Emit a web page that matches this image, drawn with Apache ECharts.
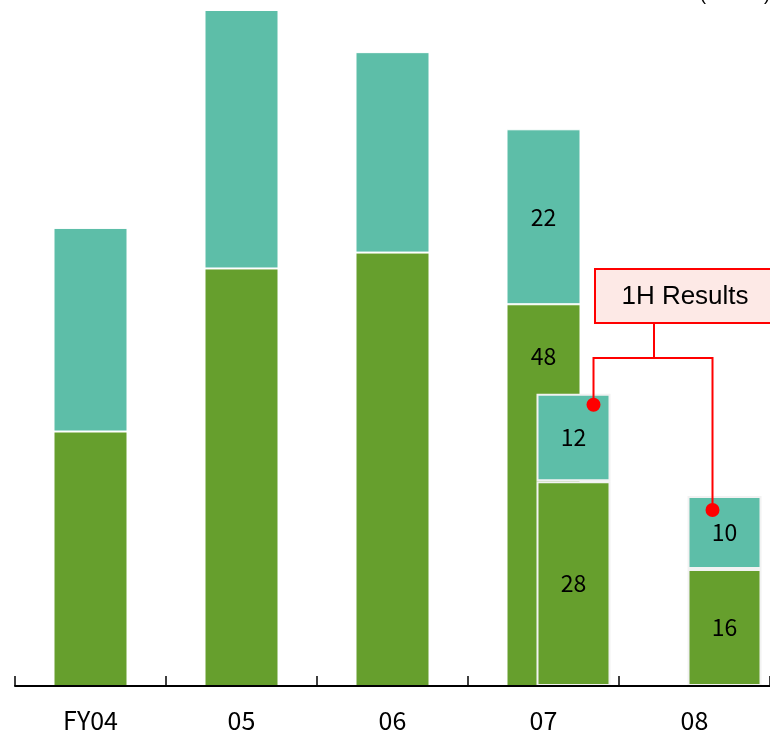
<!DOCTYPE html>
<html>
<head>
<meta charset="utf-8">
<script src="https://cdn.jsdelivr.net/npm/echarts@6/dist/echarts.min.js"></script>
<style>
  html, body { margin: 0; padding: 0; background: #ffffff; }
  #chart { width: 770px; height: 735px; }
</style>
</head>
<body>
<div id="chart"></div>
<script>
// Fiscal years on the category axis
const categories = ['FY04', '05', '06', '07', '08'];

// Full-year results (JPY bn): lower (green) and upper (teal) segments
const fyLower = [32, 52.5, 54.5, 48, null];
const fyUpper = [25.6, 32.5, 25.2, 22, null];

// First-half results (JPY bn)
const hLower = [null, null, null, 28, 16];
const hUpper = [null, null, null, 12, 10];

// Which full-year bars carry value labels
const fyLabelled = [false, false, false, true, false];

const unitText = '(JPY bn)';
const calloutText = '1H Results';

const GREEN = '#669f2d';
const TEAL = '#5dbea8';
const RED = '#ff0000';
const LABEL_FONT = '"Noto Sans CJK JP", "Liberation Sans", sans-serif';

const chart = echarts.init(document.getElementById('chart'), null, { renderer: 'canvas' });

function fyItems(values, pos, dist) {
  return values.map((v, i) => ({
    value: v,
    label: {
      show: fyLabelled[i] && v != null,
      position: pos,
      distance: dist
    }
  }));
}

const barLabel = {
  color: '#000',
  fontSize: 23,
  fontFamily: LABEL_FONT,
  formatter: p => String(p.value)
};

// First-half bars share the category band with an empty slot on their left,
// which pushes them to the right of the full-year bars.
const H_GAP = '-18.9%';

const option = {
  animation: false,
  backgroundColor: '#ffffff',
  grid: { left: 15, right: 0, top: 10, bottom: 49 },
  xAxis: [
    {
      type: 'category',
      data: categories,
      boundaryGap: true,
      axisLine: { lineStyle: { color: '#000', width: 2 } },
      axisTick: { show: true, inside: true, length: 10, lineStyle: { color: '#000', width: 1.5 } },
      axisLabel: { color: '#000', fontSize: 25, fontFamily: LABEL_FONT, margin: 22 },
      splitLine: { show: false },
      z: 10
    },
    {
      type: 'category',
      data: categories,
      show: false
    }
  ],
  yAxis: [
    { type: 'value', min: 0, max: 85, show: false, splitLine: { show: false } },
    { type: 'value', min: 0, max: 92.5, show: false, splitLine: { show: false } }
  ],
  series: [
    {
      name: 'FY lower', type: 'bar', xAxisIndex: 0, yAxisIndex: 0, stack: 'fy',
      barWidth: 74,
      itemStyle: { color: GREEN, borderColor: '#ffffff', borderWidth: 1 },
      label: Object.assign({}, barLabel),
      data: fyItems(fyLower, 'insideTop', 41)
    },
    {
      name: 'FY upper', type: 'bar', xAxisIndex: 0, yAxisIndex: 0, stack: 'fy',
      barWidth: 74,
      itemStyle: { color: TEAL, borderColor: '#ffffff', borderWidth: 1 },
      label: Object.assign({}, barLabel),
      data: fyItems(fyUpper, 'inside', 0)
    },
    {
      name: 'slot', type: 'bar', xAxisIndex: 1, yAxisIndex: 1,
      barWidth: 74, barGap: H_GAP,
      data: categories.map(() => null)
    },
    {
      name: '1H lower', type: 'bar', xAxisIndex: 1, yAxisIndex: 1, stack: 'h',
      barWidth: 74, barGap: H_GAP,
      itemStyle: { color: GREEN, borderColor: '#f2f2f2', borderWidth: 2 },
      label: Object.assign({ show: true, position: 'inside' }, barLabel),
      data: hLower
    },
    {
      name: '1H upper', type: 'bar', xAxisIndex: 1, yAxisIndex: 1, stack: 'h',
      barWidth: 74, barGap: H_GAP,
      itemStyle: { color: TEAL, borderColor: '#f2f2f2', borderWidth: 2 },
      label: Object.assign({ show: true, position: 'inside' }, barLabel),
      data: hUpper
    }
  ]
};

chart.setOption(option);

// Top-centre pixel of each first-half stack
function firstHalfTops() {
  const tops = [];
  const s = chart.getModel().getSeriesByName('1H upper')[0];
  const data = s.getData();
  hUpper.forEach((v, i) => {
    if (v == null) return;
    const layout = data.getItemLayout(i);
    const cx = layout.x + layout.width / 2;
    const top = chart.convertToPixel({ xAxisIndex: 1, yAxisIndex: 1 }, [categories[i], hLower[i] + v])[1];
    tops.push([cx, top]);
  });
  return tops;
}

// Callout: box with connectors running to the tops of the first-half bars
function drawCallout() {
  const tops = firstHalfTops();
  // dot anchors sit a little inside the top segment of each bar
  const dotA = [tops[0][0] + 20, tops[0][1] + 11];
  const dotB = [tops[1][0] - 12, tops[1][1] + 14];

  const box = { x: 595, y: 269, w: 182, h: 54 };
  const busY = 358;
  const stemX = 654;

  const lineStyle = { stroke: RED, lineWidth: 2 };
  chart.setOption({
    graphic: [
      {
        type: 'text',
        right: 0, top: -14,
        style: { text: unitText, fill: '#000', font: '18px "Liberation Sans", Arial, sans-serif' }
      },
      {
        type: 'rect',
        shape: { x: box.x, y: box.y, width: box.w, height: box.h },
        style: { fill: '#fde9e6', stroke: RED, lineWidth: 2 },
        z: 20
      },
      {
        type: 'text',
        x: box.x + box.w / 2 - 1, y: box.y + box.h / 2 + 1,
        style: {
          text: calloutText, fill: '#000',
          font: '26px "Liberation Sans", Arial, sans-serif',
          align: 'center', verticalAlign: 'middle'
        },
        z: 21
      },
      {
        type: 'polyline',
        shape: { points: [[stemX, box.y + box.h], [stemX, busY]] },
        style: lineStyle, z: 20
      },
      {
        type: 'polyline',
        shape: { points: [[dotA[0], dotA[1]], [dotA[0], busY], [dotB[0], busY], [dotB[0], dotB[1]]] },
        style: lineStyle, z: 20
      },
      { type: 'circle', shape: { cx: dotA[0], cy: dotA[1], r: 7 }, style: { fill: RED }, z: 21 },
      { type: 'circle', shape: { cx: dotB[0], cy: dotB[1], r: 7 }, style: { fill: RED }, z: 21 }
    ]
  });
}
drawCallout();
</script>
</body>
</html>
